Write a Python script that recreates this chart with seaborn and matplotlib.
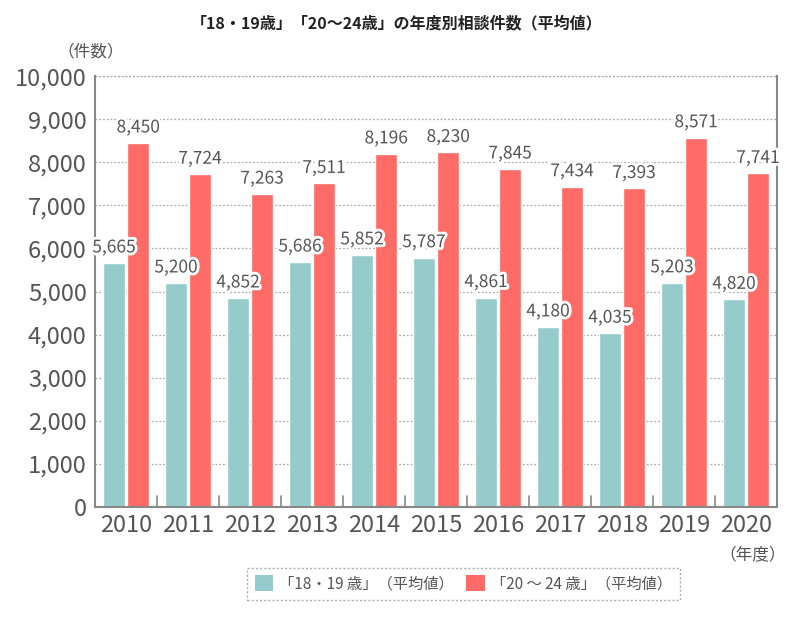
import matplotlib
matplotlib.use("Agg")
import matplotlib.pyplot as plt
import matplotlib.patheffects as pe
from matplotlib.patches import Patch
import seaborn as sns
import pandas as pd

years = ["2010", "2011", "2012", "2013", "2014", "2015", "2016", "2017", "2018", "2019", "2020"]
teen = [5665, 5200, 4852, 5686, 5852, 5787, 4861, 4180, 4035, 5203, 4820]
young = [8450, 7724, 7263, 7511, 8196, 8230, 7845, 7434, 7393, 8571, 7741]
series_names = ["「18・19 歳」（平均値）", "「20 ～ 24 歳」（平均値）"]
colors = ["#96CBCB", "#FF6B66"]
yticks = [0, 1000, 2000, 3000, 4000, 5000, 6000, 7000, 8000, 9000, 10000]

sns.set_theme(style="white")
plt.rcParams['font.family'] = ['Noto Sans CJK JP', 'DejaVu Sans']

df = pd.DataFrame({
    "year": years * 2,
    "value": teen + young,
    "series": [series_names[0]] * len(years) + [series_names[1]] * len(years),
})

fig = plt.figure(figsize=(7.99, 6.19), dpi=100)
ax = fig.add_axes([0.119, 0.181, 0.8535, 0.696])

sns.barplot(data=df, x="year", y="value", hue="series", palette=colors,
            width=0.78, gap=0.1, ax=ax, legend=False, saturation=1)

ax.set_ylim(0, 10000)
ax.set_xlim(-0.5, len(years) - 0.5)
ax.set_yticks(yticks)
ax.set_yticklabels([f"{v:,}" for v in yticks], fontsize=17, color="#555555")
ax.tick_params(axis="x", labelsize=17, colors="#555555", length=0, pad=5)
ax.tick_params(axis="y", length=0, pad=6)
for lbl in ax.get_xticklabels():
    lbl.set_color("#555555")
ax.set_xlabel("")
ax.set_ylabel("")

ax.yaxis.grid(True, linestyle=(0, (1.5, 1.5)), color="#aaaaaa", linewidth=0.9)
ax.set_axisbelow(True)
for s in ["left", "right", "bottom"]:
    ax.spines[s].set_color("#888888")
    ax.spines[s].set_linewidth(1.5)
ax.spines["top"].set_visible(False)
ax.axhline(10000, linestyle=(0, (1.5, 1.5)), color="#aaaaaa", linewidth=0.9, clip_on=False)

# small boundary ticks between groups
for i in range(1, len(years)):
    ax.plot([i - 0.5, i - 0.5], [0, 250], color="#888888", linewidth=1.2)

stroke = [pe.withStroke(linewidth=4, foreground="white")]
for cont in ax.containers:
    for bar in cont:
        h = bar.get_height()
        ax.text(bar.get_x() + bar.get_width() / 2, h + 150, f"{int(h):,}",
                ha="center", va="bottom", fontsize=12.5, color="#555555",
                path_effects=stroke, zorder=5)

fig.text(0.496, 0.962, "「18・19歳」「20～24歳」の年度別相談件数（平均値）",
         ha="center", va="center", fontsize=11.5, fontweight="bold", color="#222222")
fig.text(0.113, 0.916, "（件数）", ha="center", va="center", fontsize=12, color="#555555")
fig.text(0.942, 0.102, "（年度）", ha="center", va="center", fontsize=12, color="#555555")

handles = [Patch(facecolor=c, edgecolor="none") for c in colors]
leg = fig.legend(handles, series_names, loc="center", bbox_to_anchor=(0.58, 0.057),
                 ncol=2, fontsize=11, frameon=True, handlelength=1.2, handleheight=1.2,
                 columnspacing=0.8, handletextpad=0.4, borderpad=0.5, fancybox=False)
for t in leg.get_texts():
    t.set_color("#555555")
fr = leg.get_frame()
fr.set_edgecolor("#999999")
fr.set_linestyle((0, (1.5, 1.5)))
fr.set_linewidth(1.0)

fig.savefig("out.png", dpi=100)
